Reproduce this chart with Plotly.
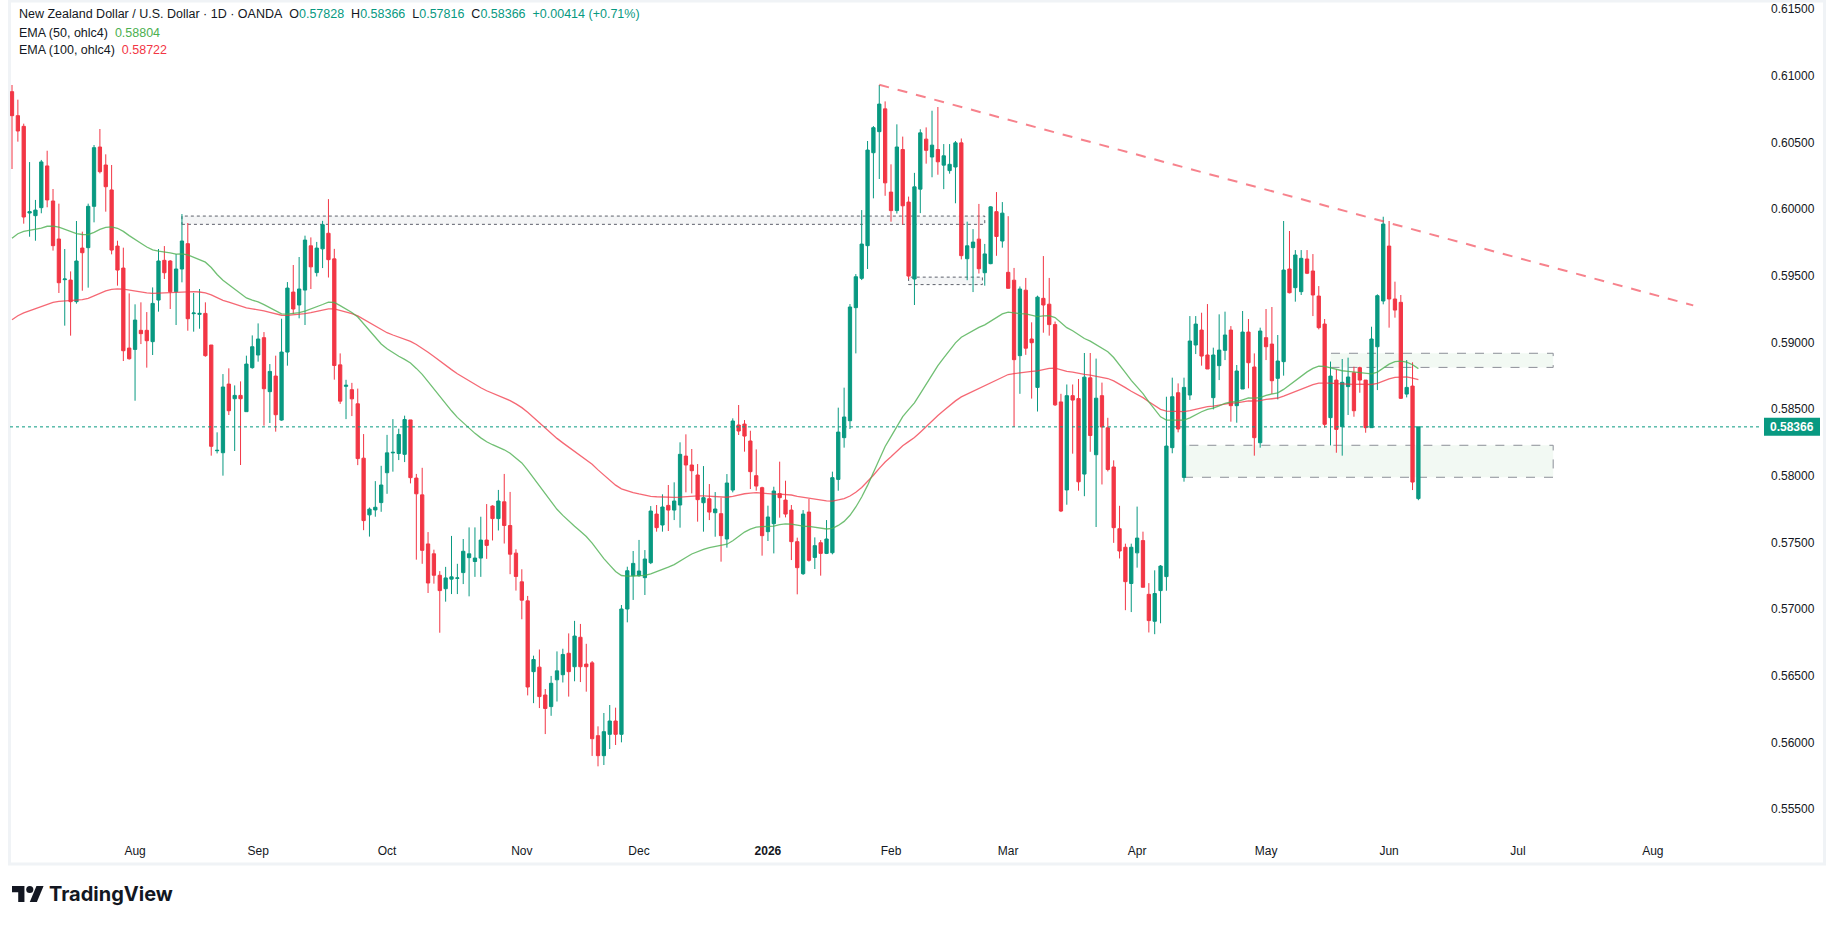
import pandas as pd
import plotly.graph_objects as go

# ---------------- data (NZD/USD daily, OANDA) ----------------
opens = [
    0.6088, 0.6070, 0.6062, 0.5997, 0.5995, 0.6001, 0.60323, 0.6006, 0.59775, 0.5947,
    0.59467, 0.59305, 0.59707, 0.5971, 0.6002, 0.60465, 0.6033, 0.60143, 0.59722, 0.59557,
    0.58957, 0.58947, 0.5909, 0.5909, 0.59005, 0.59317, 0.59615, 0.5961, 0.5938, 0.5955,
    0.5974, 0.59215, 0.5921, 0.59217, 0.5898, 0.58187, 0.58172, 0.58687, 0.58577, 0.58602,
    0.5848, 0.5881, 0.58905, 0.59035, 0.5863, 0.58747, 0.58417, 0.58927, 0.59377, 0.5928,
    0.59392, 0.59724, 0.59523, 0.59701, 0.59818, 0.59626, 0.58831, 0.5867, 0.58645, 0.58539,
    0.58131, 0.57706, 0.57743, 0.57798, 0.58022, 0.58171, 0.58166, 0.5816, 0.58418, 0.57982,
    0.57856, 0.57488, 0.57414, 0.57253, 0.57152, 0.57224, 0.5723, 0.57273, 0.57385, 0.57356,
    0.57382, 0.57517, 0.57772, 0.57678, 0.57804, 0.57626, 0.57419, 0.57204, 0.57061, 0.5653,
    0.56564, 0.56355, 0.56268, 0.56469, 0.56507, 0.56668, 0.56567, 0.56788, 0.56587, 0.56596,
    0.5605, 0.5590, 0.5606, 0.5616, 0.5606, 0.5700, 0.5725, 0.5725, 0.57235, 0.57347,
    0.57712, 0.5763, 0.57777, 0.57742, 0.5778, 0.58147, 0.5808, 0.58005, 0.57797, 0.57827,
    0.57722, 0.57715, 0.57525, 0.57892, 0.5838, 0.58387, 0.5826, 0.5800, 0.5791, 0.5758,
    0.5764, 0.57865, 0.57817, 0.57742, 0.57505, 0.57265, 0.57727, 0.57387, 0.57497, 0.57417,
    0.57422, 0.57972, 0.58285, 0.58412, 0.5926, 0.5948, 0.59725, 0.60422, 0.6058, 0.60751,
    0.60127, 0.59988, 0.60446, 0.60052, 0.59475, 0.60149, 0.60524, 0.6039, 0.60446, 0.60329,
    0.60288, 0.60315, 0.60496, 0.59627, 0.5971, 0.59774, 0.59522, 0.5959, 0.5998, 0.5976,
    0.59525, 0.59466, 0.589, 0.59391, 0.59025, 0.58662, 0.5933, 0.59286, 0.59133, 0.58553,
    0.57893, 0.586, 0.58578, 0.58012, 0.58734, 0.58157, 0.586, 0.58359, 0.58065, 0.57602,
    0.57463, 0.57191, 0.57421, 0.57513, 0.5711, 0.56908, 0.57138, 0.57243, 0.5821, 0.58622,
    0.57987, 0.58605, 0.5898, 0.59092, 0.58905, 0.58585, 0.58825, 0.5894, 0.59092, 0.58525,
    0.5865, 0.59077, 0.58815, 0.58247, 0.59035, 0.58987, 0.5873, 0.58855, 0.5955, 0.5941,
    0.5938, 0.59625, 0.59535, 0.59347, 0.59137, 0.58435, 0.58717, 0.58367, 0.58668, 0.58772,
    0.5881, 0.58717, 0.5836, 0.58967, 0.5931, 0.59722, 0.59325, 0.593, 0.58612, 0.58672,
    0.57828,
]
highs = [
    0.6093, 0.6082, 0.6064, 0.60352, 0.60068, 0.60368, 0.60437, 0.6015, 0.6004, 0.5970,
    0.59532, 0.5991, 0.5983, 0.6004, 0.6048, 0.6060, 0.6041, 0.6033, 0.59762, 0.5971,
    0.59367, 0.59285, 0.5930, 0.59227, 0.59412, 0.5970, 0.59722, 0.59617, 0.59662, 0.59962,
    0.59895, 0.5937, 0.5940, 0.5930, 0.5898, 0.58325, 0.58762, 0.58805, 0.58677, 0.58707,
    0.5890, 0.59052, 0.59142, 0.59077, 0.58837, 0.5890, 0.59177, 0.59452, 0.5958, 0.5964,
    0.5980, 0.59787, 0.59753, 0.59911, 0.60074, 0.59701, 0.58917, 0.58719, 0.58696, 0.58653,
    0.58312, 0.57761, 0.57959, 0.58074, 0.58306, 0.58424, 0.58352, 0.5845, 0.58418, 0.58013,
    0.58059, 0.57577, 0.57445, 0.57284, 0.57316, 0.57548, 0.57339, 0.57525, 0.57612, 0.57612,
    0.57692, 0.57787, 0.57778, 0.57893, 0.58013, 0.57878, 0.57448, 0.57298, 0.57098, 0.5665,
    0.56696, 0.5640, 0.56498, 0.56682, 0.56702, 0.56817, 0.56911, 0.56888, 0.56739, 0.5661,
    0.5612, 0.5622, 0.5628, 0.5626, 0.5703, 0.57317, 0.57435, 0.57518, 0.57442, 0.57772,
    0.5778, 0.5786, 0.5793, 0.5795, 0.5825, 0.5831, 0.5820, 0.58087, 0.58072, 0.57937,
    0.57877, 0.57835, 0.58012, 0.5843, 0.5853, 0.58417, 0.58337, 0.58197, 0.57917, 0.57775,
    0.57917, 0.58105, 0.57962, 0.5778, 0.57535, 0.57742, 0.57825, 0.57537, 0.57517, 0.57667,
    0.5803, 0.5851, 0.5866, 0.59287, 0.59512, 0.59992, 0.6051, 0.60622, 0.6093, 0.60807,
    0.60335, 0.60635, 0.60543, 0.60093, 0.60271, 0.60598, 0.60612, 0.60737, 0.60765, 0.60487,
    0.60487, 0.6051, 0.60529, 0.59905, 0.59849, 0.60038, 0.59738, 0.60021, 0.60127, 0.60052,
    0.59946, 0.59558, 0.59419, 0.59483, 0.5915, 0.5935, 0.59647, 0.59483, 0.59156, 0.58614,
    0.58684, 0.58684, 0.58725, 0.5892, 0.5892, 0.58878, 0.58698, 0.58434, 0.58115, 0.57774,
    0.5749, 0.5749, 0.57768, 0.5758, 0.57194, 0.5729, 0.5733, 0.58592, 0.58735, 0.58692,
    0.58735, 0.59197, 0.59197, 0.59222, 0.59287, 0.5896, 0.5921, 0.5923, 0.59122, 0.5883,
    0.59235, 0.59175, 0.58917, 0.5911, 0.5925, 0.59265, 0.59055, 0.5991, 0.59835, 0.59692,
    0.59692, 0.59692, 0.59662, 0.59422, 0.59175, 0.58855, 0.58797, 0.58875, 0.58885, 0.58817,
    0.58817, 0.58717, 0.59117, 0.5936, 0.59942, 0.5991, 0.59455, 0.59355, 0.58867, 0.5885,
    0.58366,
]
lows = [
    0.6030, 0.60505, 0.5989, 0.59792, 0.59762, 0.59968, 0.60013, 0.59688, 0.5937, 0.59125,
    0.5905, 0.5929, 0.59387, 0.5941, 0.5990, 0.60267, 0.5998, 0.5966, 0.59425, 0.5886,
    0.5887, 0.58562, 0.58987, 0.5881, 0.58905, 0.5923, 0.59475, 0.5925, 0.5913, 0.5945,
    0.59087, 0.5908, 0.59102, 0.58892, 0.5815, 0.58167, 0.5800, 0.58455, 0.58185, 0.5808,
    0.5848, 0.58802, 0.58855, 0.58375, 0.58395, 0.5833, 0.58412, 0.58825, 0.59212, 0.5918,
    0.5913, 0.5940, 0.59494, 0.59557, 0.59486, 0.5872, 0.58538, 0.58424, 0.58447, 0.58079,
    0.57591, 0.57543, 0.57692, 0.57729, 0.57864, 0.5803, 0.58117, 0.58102, 0.57942, 0.5737,
    0.57339, 0.5712, 0.5719, 0.56822, 0.57055, 0.57112, 0.57112, 0.57187, 0.57095, 0.57241,
    0.57241, 0.57376, 0.57514, 0.57589, 0.57491, 0.57261, 0.57138, 0.56923, 0.56352, 0.56294,
    0.56257, 0.56062, 0.56199, 0.56306, 0.56449, 0.56343, 0.56458, 0.56452, 0.5638, 0.55898,
    0.5582, 0.5583, 0.5595, 0.5598, 0.5600, 0.5690, 0.57068, 0.57242, 0.57105, 0.57337,
    0.5758, 0.5758, 0.57585, 0.57667, 0.5761, 0.57875, 0.57867, 0.57655, 0.5758, 0.57667,
    0.57542, 0.57355, 0.5746, 0.57875, 0.58305, 0.5818, 0.5790, 0.57887, 0.5740, 0.5751,
    0.57417, 0.57685, 0.57687, 0.57367, 0.5711, 0.57255, 0.57355, 0.5730, 0.5725, 0.57412,
    0.5741, 0.57887, 0.5821, 0.5835, 0.58917, 0.59467, 0.5955, 0.6008, 0.60225, 0.60099,
    0.59905, 0.59966, 0.59883, 0.59475, 0.5928, 0.59969, 0.6034, 0.60238, 0.60257, 0.60149,
    0.60265, 0.60043, 0.59622, 0.59466, 0.59377, 0.59516, 0.59425, 0.59586, 0.59649, 0.5971,
    0.59405, 0.58365, 0.58614, 0.58906, 0.58578, 0.58481, 0.59072, 0.5905, 0.58523, 0.57727,
    0.57782, 0.58165, 0.57887, 0.57846, 0.58179, 0.57615, 0.57934, 0.58032, 0.57496, 0.57379,
    0.56991, 0.56977, 0.5731, 0.57163, 0.56824, 0.56811, 0.56893, 0.57137, 0.58168, 0.58325,
    0.57955, 0.58568, 0.58912, 0.58825, 0.588, 0.58497, 0.58717, 0.58867, 0.58405, 0.58397,
    0.5865, 0.58655, 0.5815, 0.5821, 0.58867, 0.58612, 0.58572, 0.5875, 0.59367, 0.59305,
    0.59355, 0.59512, 0.59197, 0.59097, 0.5836, 0.58227, 0.58172, 0.5815, 0.58455, 0.58442,
    0.58622, 0.58322, 0.5836, 0.58642, 0.59285, 0.5911, 0.59185, 0.58575, 0.58587, 0.57892,
    0.57816,
]
closes = [
    0.6070, 0.60585, 0.5994, 0.5998, 0.59992, 0.60353, 0.60068, 0.59725, 0.59447, 0.59475,
    0.59305, 0.5961, 0.59672, 0.6002, 0.6046, 0.6028, 0.60167, 0.59692, 0.59542, 0.58937,
    0.58877, 0.59167, 0.59065, 0.59012, 0.59292, 0.5961, 0.59522, 0.5938, 0.5955, 0.5976,
    0.59177, 0.5922, 0.59217, 0.5890, 0.5822, 0.5819, 0.58665, 0.58487, 0.58602, 0.58577,
    0.58837, 0.58967, 0.59025, 0.58652, 0.58782, 0.58457, 0.58927, 0.59407, 0.5925, 0.594,
    0.59767, 0.59566, 0.59707, 0.59882, 0.5962, 0.58826, 0.58559, 0.58678, 0.58576, 0.58128,
    0.57663, 0.57749, 0.57763, 0.5793, 0.58171, 0.58175, 0.58309, 0.58421, 0.57985, 0.57864,
    0.5744, 0.57195, 0.57253, 0.57138, 0.57233, 0.57241, 0.57233, 0.57433, 0.57414, 0.57382,
    0.57517, 0.57477, 0.57678, 0.5781, 0.57626, 0.57411, 0.57244, 0.57066, 0.56415, 0.56621,
    0.56343, 0.56254, 0.56443, 0.56536, 0.56659, 0.5653, 0.56797, 0.56567, 0.56567, 0.56027,
    0.5590, 0.5608, 0.5616, 0.5606, 0.5700, 0.57287, 0.57342, 0.57285, 0.57375, 0.57735,
    0.5761, 0.57765, 0.57742, 0.5781, 0.5816, 0.5808, 0.58037, 0.5782, 0.57835, 0.57727,
    0.5775, 0.5755, 0.57945, 0.5841, 0.58335, 0.58297, 0.5803, 0.57922, 0.5755, 0.5769,
    0.57885, 0.57835, 0.57712, 0.57505, 0.5731, 0.57712, 0.57365, 0.57475, 0.57417, 0.57525,
    0.57985, 0.58327, 0.5844, 0.59265, 0.59492, 0.59737, 0.60442, 0.6061, 0.60787, 0.60196,
    0.59988, 0.60465, 0.60024, 0.59497, 0.60166, 0.60571, 0.6044, 0.60479, 0.60354, 0.60399,
    0.60335, 0.60496, 0.5965, 0.59724, 0.59752, 0.59552, 0.59663, 0.60016, 0.59794, 0.59969,
    0.59405, 0.5887, 0.594, 0.58956, 0.58997, 0.59339, 0.5928, 0.59133, 0.58531, 0.57735,
    0.586, 0.58567, 0.57954, 0.58739, 0.58301, 0.58581, 0.58365, 0.58046, 0.5761, 0.57435,
    0.57205, 0.57463, 0.57532, 0.57163, 0.56913, 0.57116, 0.57322, 0.58222, 0.58592, 0.5835,
    0.58662, 0.5901, 0.59137, 0.58897, 0.588, 0.58905, 0.58942, 0.59055, 0.58525, 0.58785,
    0.59077, 0.58847, 0.58285, 0.59085, 0.58967, 0.58712, 0.5886, 0.59542, 0.59372, 0.59655,
    0.5963, 0.59518, 0.59355, 0.5911, 0.58385, 0.58747, 0.58347, 0.587, 0.5874, 0.58487,
    0.58717, 0.5836, 0.59025, 0.5935, 0.59887, 0.59325, 0.59242, 0.5858, 0.58662, 0.57952,
    0.58366,
]
assert len(opens) == len(highs) == len(lows) == len(closes)

first_day = "2025-07-03"
holidays = ["2025-12-25", "2026-01-01"]
calendar_end = "2026-08-31"

ema50_seed = 0.5978    # EMA(50) value at the first visible bar
ema100_seed = 0.5917   # EMA(100) value at the first visible bar
ema50_label = "0.58804"
ema100_label = "0.58722"

y_ticks = [0.555, 0.560, 0.565, 0.570, 0.575, 0.580, 0.585, 0.590, 0.595, 0.600, 0.605, 0.610, 0.615]

# drawings (bar index, price)
trend_pts = [(148, 0.60932), (286.9, 0.59277)]
box_resist = (29, 166, 0.59885, 0.59947)
box_small = (153, 165.6, 0.59433, 0.59489)
box_upper = (225, 263, 0.58812, 0.58918)
box_lower = (200, 263, 0.57988, 0.58228)

# ---------------- derived ----------------
days = pd.bdate_range(first_day, calendar_end)
days = days[~days.isin(pd.to_datetime(holidays))]
n = len(closes)
xs = list(range(n))

ohlc4 = [(o + h + l + c) / 4 for o, h, l, c in zip(opens, highs, lows, closes)]


def ema(values, length, seed):
    a = 2.0 / (length + 1)
    out = [seed]
    for v in values[1:]:
        out.append(out[-1] + a * (v - out[-1]))
    return out


ema50 = ema(ohlc4, 50, ema50_seed)
ema100 = ema(ohlc4, 100, ema100_seed)

tick_vals, tick_text = [], []
prev = None
for i, d in enumerate(days):
    key = (d.year, d.month)
    if prev is not None and key != prev and i < 298:
        tick_vals.append(i)
        tick_text.append("<b>%d</b>" % d.year if d.month == 1 else d.strftime("%b"))
    prev = key

UP = "#089981"
DN = "#f23645"
TXT = "#131722"
FONT = "Liberation Sans, Arial, sans-serif"

# pixel geometry
W, H = 1835, 925
PL, PR, PT, PB = 10, 1762, 2, 838
X0, DX = 12.0, 5.86          # pixel of bar 0, pixels per bar
PY0, PDY = 209.0, 13333.3    # pixel of price 0.600, pixels per unit price


def px_x(x):
    return (x - PL) / (PR - PL)


def px_y(y):
    return (PB - y) / (PB - PT)


x_lo = (PL - X0) / DX
x_hi = (PR - X0) / DX
y_hi = 0.6 + (PY0 - PT) / PDY
y_lo = 0.6 - (PB - PY0) / PDY

fig = go.Figure()
fig.add_trace(go.Candlestick(
    x=xs, open=opens, high=highs, low=lows, close=closes,
    increasing=dict(line=dict(color=UP, width=1), fillcolor=UP),
    decreasing=dict(line=dict(color=DN, width=1), fillcolor=DN),
    whiskerwidth=0, hoverinfo="skip", showlegend=False,
))
fig.add_trace(go.Scatter(x=xs, y=ema100, mode="lines",
                         line=dict(color="rgba(242,54,69,0.75)", width=1.3),
                         hoverinfo="skip", showlegend=False))
fig.add_trace(go.Scatter(x=xs, y=ema50, mode="lines",
                         line=dict(color="rgba(76,175,80,0.8)", width=1.3),
                         hoverinfo="skip", showlegend=False))

shapes = []
# frame
shapes.append(dict(type="rect", xref="paper", yref="paper",
                   x0=px_x(9.5), x1=px_x(1824.5), y0=px_y(864), y1=px_y(1.0),
                   line=dict(color="#f0f3f6", width=3), fillcolor="rgba(0,0,0,0)", layer="below"))
# boxes
for (a, b, lo, hi) in [box_resist, box_small]:
    shapes.append(dict(type="rect", xref="x", yref="y", x0=a, x1=b, y0=lo, y1=hi,
                       line=dict(color="#5d606b", width=1, dash="dot"),
                       fillcolor="rgba(120,123,134,0.08)", layer="below"))
for (a, b, lo, hi) in [box_upper, box_lower]:
    shapes.append(dict(type="rect", xref="x", yref="y", x0=a, x1=b, y0=lo, y1=hi,
                       line=dict(color="#8c8f98", width=1, dash="dash"),
                       fillcolor="rgba(76,175,80,0.07)", layer="below"))
# trend line
shapes.append(dict(type="line", xref="x", yref="y",
                   x0=trend_pts[0][0], y0=trend_pts[0][1], x1=trend_pts[1][0], y1=trend_pts[1][1],
                   line=dict(color="rgba(242,54,69,0.62)", width=2, dash="10px,9px")))
# last price line
last = closes[-1]
shapes.append(dict(type="line", xref="paper", yref="y", x0=0, x1=1, y0=last, y1=last,
                   line=dict(color=UP, width=1, dash="dot")))
# last price label box
half = 9 / PDY
shapes.append(dict(type="rect", xref="paper", yref="y", x0=px_x(1764), x1=px_x(1820),
                   y0=last - half, y1=last + half, line=dict(width=0), fillcolor=UP))

# TradingView logo (icon paths in a 36x18 box)
s = 16 / 18.0
ox, oy = 12.0, 886.0


def lp(vx, vy):
    return "%.6f %.6f" % (px_x(ox + vx * s), px_y(oy + (vy - 4) * s))


p1 = "M " + " L ".join(lp(*p) for p in [(14, 22), (7, 22), (7, 11), (0, 11), (0, 4), (14, 4)]) + " Z"
p2 = "M " + " L ".join(lp(*p) for p in [(28, 22), (20, 22), (27.5, 4), (35.5, 4)]) + " Z"
for p in (p1, p2):
    shapes.append(dict(type="path", xref="paper", yref="paper", path=p,
                       fillcolor=TXT, line=dict(width=0)))
shapes.append(dict(type="circle", xref="paper", yref="paper",
                   x0=px_x(ox + 16 * s), x1=px_x(ox + 24 * s),
                   y0=px_y(oy + 8 * s), y1=px_y(oy + 0 * s),
                   fillcolor=TXT, line=dict(width=0)))

NB = "\u00a0"


def col(t, c):
    return '<span style="color:%s">%s</span>' % (c, t)


chg = closes[-1] - closes[-2]
pct = chg / closes[-2] * 100
line1 = ("New Zealand Dollar / U.S. Dollar · 1D · OANDA" + NB * 2 +
         "O" + col("%.5f" % opens[-1], UP) + NB * 2 +
         "H" + col("%.5f" % highs[-1], UP) + NB * 2 +
         "L" + col("%.5f" % lows[-1], UP) + NB * 2 +
         "C" + col("%.5f" % closes[-1], UP) + NB * 2 +
         col("%+.5f (%+.2f%%)" % (chg, pct), UP))
line2 = "EMA (50, ohlc4)" + NB * 2 + col(ema50_label, "#4caf50")
line3 = "EMA (100, ohlc4)" + NB * 2 + col(ema100_label, DN)

annotations = []
for txt, yy in [(line1, 14), (line2, 33), (line3, 50)]:
    annotations.append(dict(text=txt, xref="paper", yref="paper", x=px_x(17), y=px_y(yy),
                            xanchor="left", yanchor="middle", showarrow=False,
                            font=dict(size=12.5, color=TXT, family=FONT)))
annotations.append(dict(text="<b>%.5f</b>" % last, xref="paper", yref="y", x=px_x(1792), y=last,
                        xanchor="center", yanchor="middle", showarrow=False,
                        font=dict(size=12, color="white", family=FONT)))
annotations.append(dict(text="<b>TradingView</b>", xref="paper", yref="paper", x=px_x(47), y=px_y(894),
                        xanchor="left", yanchor="middle", showarrow=False,
                        font=dict(size=20, color=TXT, family="Inter, Roboto, sans-serif")))

fig.update_layout(
    width=W, height=H,
    margin=dict(l=PL, r=W - PR, t=PT, b=H - PB, pad=0),
    paper_bgcolor="white", plot_bgcolor="white",
    showlegend=False, boxgap=0.2,
    shapes=shapes, annotations=annotations,
    xaxis=dict(range=[x_lo, x_hi], showgrid=False, zeroline=False, showline=False,
               tickvals=tick_vals, ticktext=tick_text, ticks="",
               tickfont=dict(size=12, color=TXT, family=FONT),
               rangeslider=dict(visible=False), fixedrange=True, ticklabelstandoff=4),
    yaxis=dict(range=[y_lo, y_hi], side="right", showgrid=False, zeroline=False, showline=False,
               tickvals=y_ticks, ticktext=["%.5f" % v for v in y_ticks], ticks="",
               tickfont=dict(size=12, color=TXT, family=FONT), fixedrange=True,
               ticklabelstandoff=8),
)

fig.write_html("out.html", config={"displayModeBar": False})
